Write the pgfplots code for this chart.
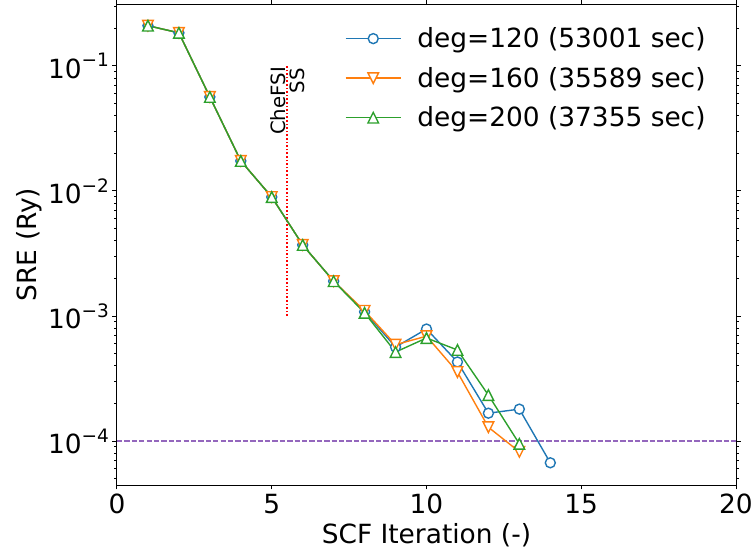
\documentclass[border=0pt]{standalone}
\usepackage{fontspec}
\setmainfont{DejaVu Sans}
\usepackage{pgfplots}
\pgfplotsset{compat=1.18}
\definecolor{tblue}{HTML}{1F77B4}
\definecolor{torange}{HTML}{FF7F0E}
\definecolor{tgreen}{HTML}{2CA02C}
\definecolor{tpurple}{HTML}{9467BD}
\definecolor{tred}{HTML}{FF0000}
\pgfdeclareplotmark{mtriup}{%
  \pgfpathmoveto{\pgfqpoint{0pt}{\pgfplotmarksize}}%
  \pgfpathlineto{\pgfqpoint{-\pgfplotmarksize}{-\pgfplotmarksize}}%
  \pgfpathlineto{\pgfqpoint{\pgfplotmarksize}{-\pgfplotmarksize}}%
  \pgfpathclose\pgfusepathqfillstroke}
\pgfdeclareplotmark{mtridown}{%
  \pgfpathmoveto{\pgfqpoint{0pt}{-\pgfplotmarksize}}%
  \pgfpathlineto{\pgfqpoint{-\pgfplotmarksize}{\pgfplotmarksize}}%
  \pgfpathlineto{\pgfqpoint{\pgfplotmarksize}{\pgfplotmarksize}}%
  \pgfpathclose\pgfusepathqfillstroke}
\newcommand{\bigfnt}{\fontsize{26.4bp}{31bp}\selectfont}
\newcommand{\smlfnt}{\fontsize{19.7bp}{23bp}\selectfont}
\newcommand{\sexp}[1]{10\raisebox{0.42em}{\fontsize{18.5bp}{20bp}\selectfont #1}}
\begin{document}
\begin{tikzpicture}
\path[use as bounding box] (-117bp,-70bp) rectangle (636bp,485bp);
\begin{axis}[
  at={(0,0)}, anchor=south west,
  scale only axis, width=619bp, height=481bp,
  ymode=log, xmin=0, xmax=20, ymin=4.45e-5, ymax=0.313,
  xtick={0,5,10,15,20}, xticklabels={0,5,10,15,20},
  ytick={1e-4,1e-3,1e-2,1e-1},
  yticklabels={\sexp{−4},\sexp{−3},\sexp{−2},\sexp{−1}},
  minor ytick={5e-5,6e-5,7e-5,8e-5,9e-5,2e-4,3e-4,4e-4,5e-4,6e-4,7e-4,8e-4,9e-4,2e-3,3e-3,4e-3,5e-3,6e-3,7e-3,8e-3,9e-3,2e-2,3e-2,4e-2,5e-2,6e-2,7e-2,8e-2,9e-2,2e-1,3e-1},
  tick align=outside, major tick length=4.5bp, minor tick length=2.6bp,
  tick style={black, line width=1bp},
  axis line style={line width=1bp},
  ticklabel style={font=\bigfnt},
  xticklabel style={yshift=-1bp},
  label style={font=\bigfnt},
  xlabel={SCF Iteration (-)}, ylabel={SRE (Ry)},
  xlabel style={yshift=-3bp},
  ylabel style={yshift=-1bp},
  legend cell align=left,
  legend style={at={(rel axis cs:0.368,0.955)}, anchor=north west, draw=none, fill=none,
    font=\bigfnt, inner sep=0pt, row sep=14bp,
    /tikz/every odd column/.append style={column sep=14bp}},
  legend image code/.code={\draw[#1, mark=none, line width=1.5bp] (0bp,0bp) -- (55bp,0bp);
    \draw[#1] plot coordinates {(27.5bp,0bp)};},
  every axis plot/.append style={line width=1.4bp},
]
\addplot[tred, line width=1.5bp, dash pattern=on 1.6bp off 2.0bp, forget plot] coordinates {(5.5,1e-3) (5.5,0.1)};
\addplot[tpurple, line width=1.3bp, dash pattern=on 5.3bp off 2.1bp, forget plot] coordinates {(0,1e-4) (20,1e-4)};
\addplot[tblue, mark=*, mark size=5bp, mark options={fill=white, solid}] coordinates {
(1,0.21) (2,0.184) (3,0.0565) (4,0.0174) (5,0.00895) (6,0.0037) (7,0.0019) (8,0.00108)
(9,5.65e-4) (10,7.87e-4) (11,4.29e-4) (12,1.67e-4) (13,1.8e-4) (14,6.7e-5)};
\addlegendentry{deg=120 (53001 sec)}
\addplot[torange, mark=mtridown, mark size=5.3bp, mark options={fill=white, solid}] coordinates {
(1,0.21) (2,0.184) (3,0.0565) (4,0.0174) (5,0.00895) (6,0.0037) (7,0.0019) (8,0.0011)
(9,5.9e-4) (10,6.9e-4) (11,3.56e-4) (12,1.29e-4) (13,8.2e-5)};
\addlegendentry{deg=160 (35589 sec)}
\addplot[tgreen, mark=mtriup, mark size=5.3bp, mark options={fill=white, solid}] coordinates {
(1,0.21) (2,0.184) (3,0.0565) (4,0.0174) (5,0.00895) (6,0.0037) (7,0.0019) (8,0.00106)
(9,5.15e-4) (10,6.67e-4) (11,5.35e-4) (12,2.33e-4) (13,9.5e-5)};
\addlegendentry{deg=200 (37355 sec)}
\node[rotate=90, anchor=south east, font=\smlfnt, inner sep=1bp] at (axis cs:5.5,0.1) {CheFSI};
\node[rotate=90, anchor=north east, font=\smlfnt, inner sep=2bp] at (axis cs:5.5,0.1) {SS};
\end{axis}
\end{tikzpicture}
\end{document}
